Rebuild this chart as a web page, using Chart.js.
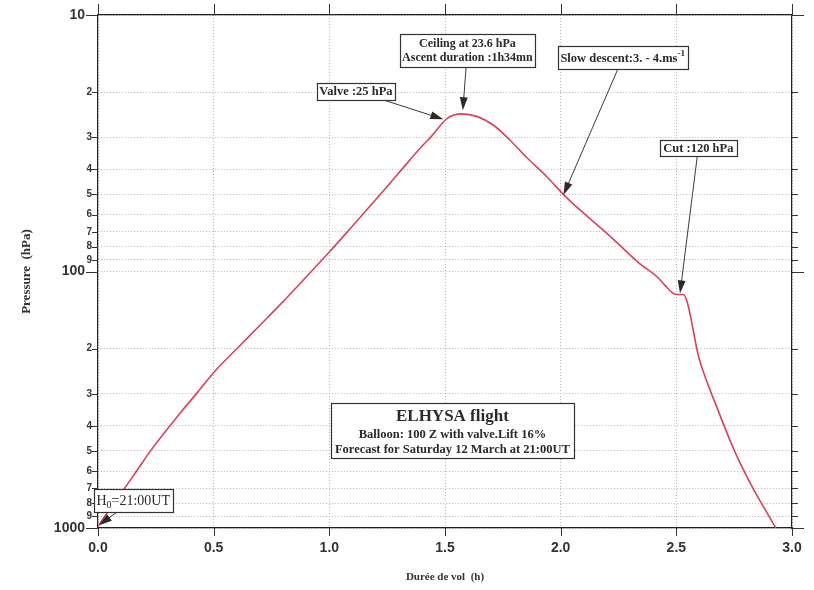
<!DOCTYPE html>
<html>
<head>
<meta charset="utf-8">
<title>ELHYSA flight</title>
<script src="https://cdn.jsdelivr.net/npm/chart.js@4/dist/chart.umd.min.js"></script>
<style>
    body { margin: 0; background: #fff; }
    canvas { display: block; }
</style>
</head>
<body>
<canvas id="flightChart" width="814" height="590"></canvas>
<script>
// Flight profile: hours since launch vs pressure (hPa)
const hours = [0, 0.05, 0.11, 0.17, 0.23, 0.36, 0.43, 0.51, 0.60, 0.70, 0.80, 0.90,
    1.00, 1.10, 1.20, 1.30, 1.40, 1.44, 1.51, 1.57, 1.64, 1.71, 1.78, 1.85, 1.94,
    2.03, 2.12, 2.20, 2.34, 2.42, 2.45, 2.48, 2.50, 2.53, 2.60, 2.68, 2.75, 2.82, 2.93];
const pressure = [985, 845, 711, 594, 496, 352, 296, 242, 200, 162, 131, 105,
    84, 66.5, 52.5, 41.3, 32.5, 29.8, 25.3, 24.3, 24.9, 26.9, 30.7, 35.7, 42.7,
    52, 61.5, 71, 92.9, 105.5, 113, 120.5, 123, 123, 221, 347, 497, 670, 1000];

// Tick values
const xTicks = [0, 0.5, 1.0, 1.5, 2.0, 2.5, 3.0];
const yTicks = [10, 20, 30, 40, 50, 60, 70, 80, 90,
    100, 200, 300, 400, 500, 600, 700, 800, 900, 1000];
const yMajor = [10, 100, 1000];

// Annotation boxes: text, box centre and arrow tip in data units (hours, hPa)
const notes = [
    { lines: [[{ t: 'H' }, { t: '0', sub: true }, { t: '=21:00UT' }]],
      at: [0.152, 780], tip: [0.004, 975], w: 79, h: 23, size: 14, bold: false },
    { lines: [[{ t: 'Valve :25 hPa' }]],
      at: [1.115, 19.8], tip: [1.493, 25.5], w: 78, h: 17, size: 12.5, bold: true },
    { lines: [[{ t: 'Ceiling at 23.6 hPa' }], [{ t: 'Ascent duration :1h34mn' }]],
      at: [1.597, 13.7], tip: [1.577, 23.5], w: 135, h: 33, size: 12, bold: true },
    { lines: [[{ t: 'Slow descent:3. - 4.ms' }, { t: '-1', sup: true }]],
      at: [2.268, 14.7], tip: [2.012, 50.3], w: 130, h: 23, size: 12.5, bold: true },
    { lines: [[{ t: 'Cut :120 hPa' }]],
      at: [2.595, 33.0], tip: [2.516, 121.6], w: 77, h: 16, size: 12.5, bold: true },
    { lines: [[{ t: 'ELHYSA flight', size: 17 }],
              [{ t: 'Balloon: 100 Z with valve.Lift 16%' }],
              [{ t: 'Forecast for Saturday 12 March at 21:00UT' }]],
      at: [1.532, 418], w: 243, h: 55, size: 12.5, bold: true }
];

const SERIF = '"Liberation Serif", "Times New Roman", serif';
const SANS = '"Liberation Sans", Arial, sans-serif';
const INK = '#2a2a2a';

function isMajor(v) {
    return yMajor.indexOf(v) !== -1;
}

function segFont(seg, note) {
    let size = seg.size || note.size;
    if (seg.sub || seg.sup) size = Math.round(size * 0.7);
    return (note.bold ? 'bold ' : '') + size + 'px ' + SERIF;
}

// Draw one line of mixed text (sub/superscripts) centred on cx
function drawRichLine(ctx, segs, note, cx, cy) {
    let total = 0;
    segs.forEach(function(s) {
        ctx.font = segFont(s, note);
        total += ctx.measureText(s.t).width;
    });
    let x = cx - total / 2;
    segs.forEach(function(s) {
        ctx.font = segFont(s, note);
        const size = s.size || note.size;
        let dy = 0;
        if (s.sup) dy = -size * 0.4;
        if (s.sub) dy = size * 0.3;
        ctx.fillText(s.t, x, cy + dy);
        x += ctx.measureText(s.t).width;
    });
}

// Where the centre->tip line leaves the box
function boxExit(cx, cy, w, h, tx, ty) {
    const dx = tx - cx, dy = ty - cy;
    const sx = dx !== 0 ? (w / 2) / Math.abs(dx) : Infinity;
    const sy = dy !== 0 ? (h / 2) / Math.abs(dy) : Infinity;
    const s = Math.min(sx, sy);
    return { x: cx + dx * s, y: cy + dy * s };
}

function drawArrow(ctx, x1, y1, x2, y2) {
    const ang = Math.atan2(y2 - y1, x2 - x1);
    const len = 13, half = 4;
    ctx.strokeStyle = '#3a3a3a';
    ctx.lineWidth = 1;
    ctx.beginPath();
    ctx.moveTo(x1, y1);
    ctx.lineTo(x2 - Math.cos(ang) * len * 0.8, y2 - Math.sin(ang) * len * 0.8);
    ctx.stroke();
    ctx.fillStyle = '#2a2a2a';
    ctx.beginPath();
    ctx.moveTo(x2, y2);
    ctx.lineTo(x2 - Math.cos(ang) * len - Math.sin(ang) * half, y2 - Math.sin(ang) * len + Math.cos(ang) * half);
    ctx.lineTo(x2 - Math.cos(ang) * len + Math.sin(ang) * half, y2 - Math.sin(ang) * len - Math.cos(ang) * half);
    ctx.closePath();
    ctx.fill();
}

// Tick marks on all four sides, plus the annotation boxes
const framePlugin = {
    id: 'frame',
    afterDraw: function(chart) {
        const ctx = chart.ctx;
        const x = chart.scales.x, y = chart.scales.y;
        const area = chart.chartArea;
        ctx.save();
        ctx.strokeStyle = '#333';
        ctx.lineWidth = 1;
        ctx.beginPath();
        xTicks.forEach(function(v) {
            const px = Math.round(x.getPixelForValue(v)) + 0.5;
            ctx.moveTo(px, area.bottom); ctx.lineTo(px, area.bottom + 8);
            ctx.moveTo(px, area.top); ctx.lineTo(px, area.top - 11);
        });
        yTicks.forEach(function(v) {
            const py = Math.round(y.getPixelForValue(v)) + 0.5;
            const l = isMajor(v) ? 12 : 6;
            ctx.moveTo(area.left - l, py); ctx.lineTo(area.left, py);
            ctx.moveTo(area.right, py); ctx.lineTo(area.right + l, py);
        });
        ctx.stroke();

        notes.forEach(function(n) {
            const cx = x.getPixelForValue(n.at[0]);
            const cy = y.getPixelForValue(n.at[1]);
            if (n.tip) {
                const tx = x.getPixelForValue(n.tip[0]);
                const ty = y.getPixelForValue(n.tip[1]);
                const p = boxExit(cx, cy, n.w, n.h, tx, ty);
                drawArrow(ctx, p.x, p.y, tx, ty);
            }
            const bx = Math.round(cx - n.w / 2) + 0.5;
            const by = Math.round(cy - n.h / 2) + 0.5;
            ctx.fillStyle = '#fff';
            ctx.fillRect(bx, by, n.w, n.h);
            ctx.strokeStyle = '#333';
            ctx.lineWidth = 1.2;
            ctx.strokeRect(bx, by, n.w, n.h);

            const heights = n.lines.map(function(l) {
                return (l[0].size || n.size) * 1.2;
            });
            const total = heights.reduce(function(a, b) { return a + b; }, 0);
            let ly = cy - total / 2;
            ctx.fillStyle = INK;
            ctx.textBaseline = 'middle';
            ctx.textAlign = 'left';
            n.lines.forEach(function(l, i) {
                drawRichLine(ctx, l, n, cx, ly + heights[i] / 2 + 1);
                ly += heights[i];
            });
        });
        ctx.restore();
    }
};

const gridLines = { color: '#b5b5b5', lineWidth: 1, drawTicks: false };
const frameBorder = { display: true, color: '#222', width: 1.2, dash: [1, 2] };

new Chart(document.getElementById('flightChart'), {
    type: 'scatter',
    data: {
        datasets: [{
            data: hours.map(function(h, i) { return { x: h, y: pressure[i] }; }),
            showLine: true,
            borderColor: '#d8435a',
            borderWidth: 1.6,
            pointRadius: 0,
            cubicInterpolationMode: 'monotone',
            xAxisID: 'x',
            yAxisID: 'y'
        }]
    },
    options: {
        responsive: false,
        devicePixelRatio: 1,
        animation: false,
        layout: { padding: 0 },
        plugins: { legend: { display: false }, tooltip: { enabled: false } },
        scales: {
            x: {
                type: 'linear', position: 'bottom', min: 0, max: 3,
                afterBuildTicks: function(s) { s.ticks = xTicks.map(function(v) { return { value: v }; }); },
                afterFit: function(s) { s.height = 62; },
                grid: gridLines,
                border: frameBorder,
                ticks: {
                    padding: 12, color: '#333', maxRotation: 0,
                    font: { family: SANS, weight: 'bold', size: 14 },
                    callback: function(v) { return Number(v).toFixed(1); }
                },
                title: {
                    display: true, text: 'Durée de vol  (h)', color: '#333',
                    font: { family: SERIF, weight: 'bold', size: 11 },
                    padding: { top: 0, bottom: 6 }
                }
            },
            xTop: {
                type: 'linear', position: 'top', min: 0, max: 3,
                afterFit: function(s) { s.height = 15; },
                grid: { display: false },
                border: { display: true, color: '#222', width: 1.2 },
                ticks: { display: false }
            },
            y: {
                type: 'logarithmic', position: 'left', min: 10, max: 1000, reverse: true,
                afterBuildTicks: function(s) { s.ticks = yTicks.map(function(v) { return { value: v }; }); },
                afterFit: function(s) { s.width = 98; },
                grid: gridLines,
                border: frameBorder,
                ticks: {
                    padding: 6, color: '#333', autoSkip: false,
                    font: function(c) {
                        const big = c.tick && isMajor(c.tick.value);
                        return { family: SANS, weight: 'bold', size: big ? 14 : 10 };
                    },
                    callback: function(v) {
                        // major labels sit a little further from the axis
                        if (isMajor(v)) return String(v) + '\u2002';
                        return String(Math.round(v / Math.pow(10, Math.floor(Math.log10(v) + 1e-9))));
                    }
                },
                title: {
                    display: true, text: 'Pressure  (hPa)', color: '#333',
                    font: { family: SERIF, weight: 'bold', size: 13 },
                    padding: { top: 19, bottom: 0 }
                }
            },
            yRight: {
                type: 'logarithmic', position: 'right', min: 10, max: 1000, reverse: true,
                afterFit: function(s) { s.width = 22; },
                grid: { display: false },
                border: { display: true, color: '#222', width: 1.2 },
                ticks: { display: false }
            }
        }
    },
    plugins: [framePlugin]
});
</script>
</body>
</html>
